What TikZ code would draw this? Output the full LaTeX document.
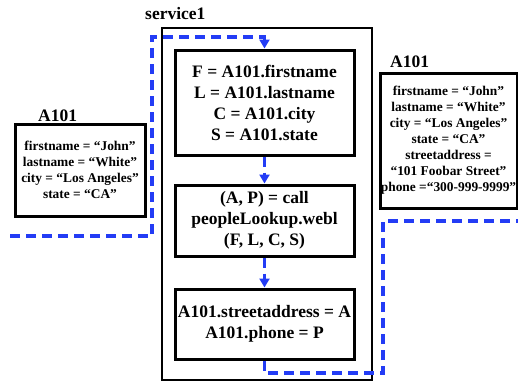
\documentclass[tikz,border=0pt]{standalone}
\usepackage{fontspec}
\setmainfont{Liberation Serif}
\usetikzlibrary{arrows.meta}
\definecolor{flowblue}{RGB}{35,60,245}
\begin{document}
\begin{tikzpicture}[x=1pt,y=-1pt,
  bigfont/.style={font=\fontsize{17.5}{21}\selectfont\bfseries},
  smallfont/.style={font=\fontsize{13.4}{16}\selectfont\bfseries},
  stepbox/.style={draw=black,line width=3pt,minimum width=179pt,inner sep=0pt,align=center,bigfont},
  databox/.style={draw=black,line width=3pt,inner sep=0pt,align=center,smallfont},
  flow/.style={draw=flowblue,line width=3.2pt,dash pattern=on 10pt off 6pt},
  flowarrow/.style={flow,-{Triangle[width=10pt,length=9pt]}}
]
\useasboundingbox (0,0) rectangle (518,381);
% service container
\node[draw=black,line width=2.4pt,minimum width=210pt,minimum height=352pt,inner sep=0pt] (svc) at (267,204) {};
\node[bigfont,anchor=base west,inner sep=0pt] (svclabel) at (145,19) {service1};
% steps
\node[stepbox,minimum height=105pt] (b1) at (264.5,102.5) {F = A101.firstname\\L = A101.lastname\\C = A101.city\\S = A101.state};
\node[stepbox,minimum height=71pt] (b2) at (264.5,220.5) {(A, P) = call\\peopleLookup.webl\\(F, L, C, S)};
\node[stepbox,minimum height=70pt] (b3) at (264.5,324) {A101.streetaddress = A\\A101.phone = P};
% data objects
\node[databox,minimum width=130pt,minimum height=92pt] (din) at (80,170) {firstname = “John”\\lastname = “White”\\city = “Los Angeles”\\state = “CA”};
\node[bigfont,anchor=base west,inner sep=0pt] (dinlabel) at (38,121) {A101};
\node[databox,minimum width=137pt,minimum height=135pt] (dout) at (448.5,140.5) {firstname = “John”\\lastname = “White”\\city = “Los Angeles”\\state = “CA”\\streetaddress =\\“101 Foobar Street”\\phone =“300-999-9999”};
\node[bigfont,anchor=base west,inner sep=0pt] (doutlabel) at (390,67) {A101};
% flow coordinates
\coordinate (l0) at (10,236);
\coordinate (l1) at (152,236);
\coordinate (l2) at (152,37);
\coordinate (r1) at (383,373);
\coordinate (r2) at (383,221);
\coordinate (r3) at (518,221);
% flows
\draw[flowarrow] (l0) -- (l1) -- (l2) -| (b1.north);
\draw[flowarrow] (b1.south) -- (b2.north);
\draw[flowarrow] (b2.south) -- (b3.north);
\draw[flow] (b3.south) |- (r1) -- (r2) -- (r3);
\end{tikzpicture}
\end{document}
